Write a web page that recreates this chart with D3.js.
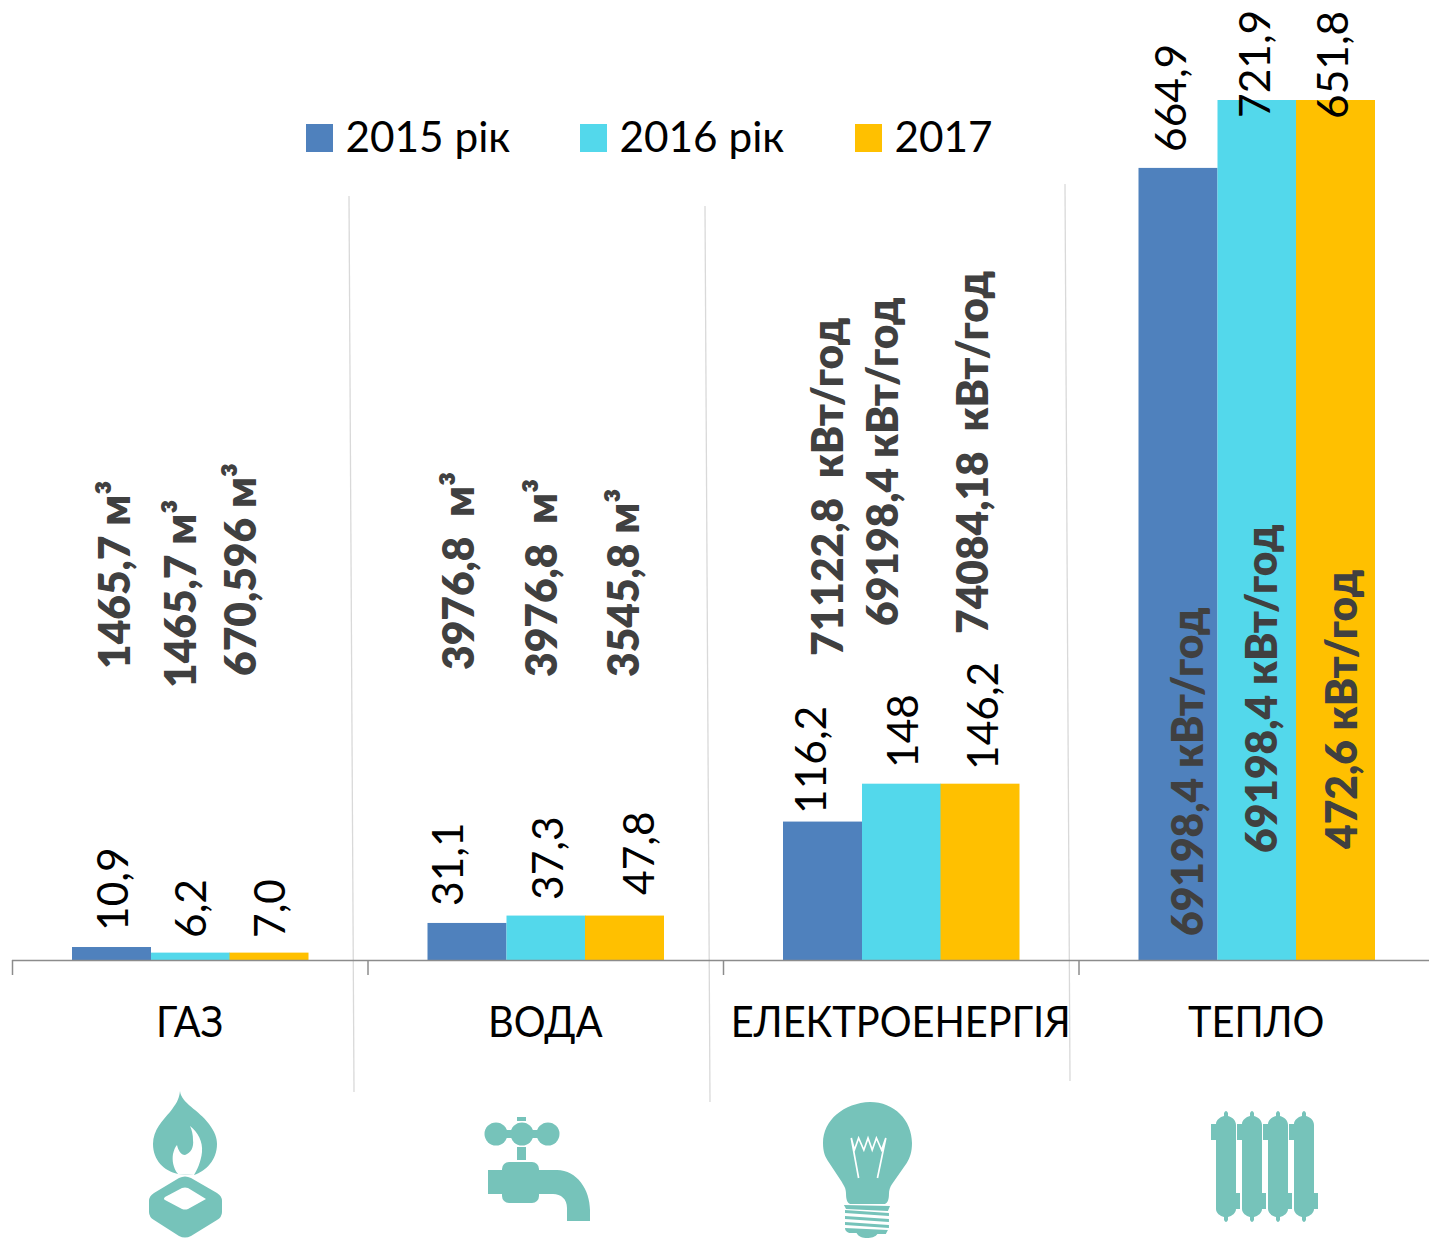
<!DOCTYPE html>
<html><head><meta charset="utf-8">
<script src="https://cdnjs.cloudflare.com/ajax/libs/d3/7.8.5/d3.min.js"></script>
<style>html,body{margin:0;background:#fff}svg{display:block}text{white-space:pre}</style>
</head><body><svg id="c" width="1429" height="1239"></svg>
<script>
const categories = ["ГАЗ","ВОДА","ЕЛЕКТРОЕНЕРГІЯ","ТЕПЛО"];
const seriesNames = ["2015 рік","2016 рік","2017"];
const seriesColors = ["#4f81bd","#53d8eb","#ffc000"];
const bars2015 = [10.9,31.1,116.2,664.9];
const bars2016 = [6.2,37.3,148,721.9];
const bars2017 = [6.2,37.3,148,721.9];
const labels2015 = ["10,9","31,1","116,2","664,9"];
const labels2016 = ["6,2","37,3","148","721,9"];
const labels2017 = ["7,0","47,8","146,2","651,8"];
const usage2015 = ["1465,7 м³","3976,8  м³","71122,8  кВт/год","69198,4 кВт/год"];
const usage2016 = ["1465,7 м³","3976,8  м³","69198,4 кВт/год","69198,4 кВт/год"];
const usage2017 = ["670,596 м³","3545,8 м³","74084,18  кВт/год","472,6 кВт/год"];

// manual label anchors from the original chart: [baseline x, start y]
const valueAnchors = [
 [[128,931],[206,938],[285,938]],
 [[463,906],[563,900],[654,895]],
 [[826,814],[918,768],[998,770]],
 [[1186,152],[1270,118],[1348,119]]];
const usageAnchors = [
 [[130,669],[196,688],[256,676]],
 [[474,670],[557,677],[639,677]],
 [[843,656],[898,626],[988,634]],
 [[1203,936],[1277,853],[1357,849]]];

const FONT = "Lato, Carlito, sans-serif";
const svg = d3.select("#c");
const bars=[bars2015,bars2016,bars2017], labels=[labels2015,labels2016,labels2017], usage=[usage2015,usage2016,usage2017];

const x = d3.scaleBand().domain(categories).range([12,12+355.5*4]);
const x1 = d3.scaleBand().domain(seriesNames).range([60,297]);
const y = d3.scaleLinear().domain([0,721.9]).range([960,100]);

// dividers
const dividers=[[349,196,354,1092],[705,206,710,1102],[1065,184,1070,1081]];
svg.selectAll("line.div").data(dividers).join("line").attr("class","div")
 .attr("x1",d=>d[0]).attr("y1",d=>d[1]).attr("x2",d=>d[2]).attr("y2",d=>d[3])
 .attr("stroke","#d9d9d9").attr("stroke-width",1.3);

// bars
seriesNames.forEach((s,si)=>{
 svg.append("g").selectAll("rect").data(categories).join("rect")
  .attr("x",c=>x(c)+x1(s)-(si==2?0.5:0)).attr("width",x1.bandwidth())
  .attr("y",(c,i)=>y(bars[si][i])).attr("height",(c,i)=>y(0)-y(bars[si][i]))
  .attr("fill",seriesColors[si]);
});

// axis
const ax = svg.append("g").attr("transform","translate(0,960)")
 .call(d3.axisBottom(x).tickSize(0).tickPadding(0));
ax.select(".domain").remove();
ax.selectAll("text").attr("font-family",FONT).attr("font-size",42.5).attr("fill","#000").attr("dy",0).attr("y",77)
  .attr("transform","scale(0.936,1)");
svg.append("line").attr("x1",12).attr("x2",1429).attr("y1",960.5).attr("y2",960.5).attr("stroke","#8c8c8c").attr("stroke-width",1.5);
svg.append("g").selectAll("line").data(categories).join("line")
 .attr("x1",c=>x(c)+.5).attr("x2",c=>x(c)+.5).attr("y1",960).attr("y2",975).attr("stroke","#8c8c8c").attr("stroke-width",1.5);

// value labels
categories.forEach((c,ci)=>seriesNames.forEach((s,si)=>{
 const [ax_,ay]=valueAnchors[ci][si];
 svg.append("text").attr("transform",`translate(${ax_},${ay}) rotate(-90)`)
  .attr("font-family",FONT).attr("font-size",42.5).attr("fill","#000").text(labels[si][ci]);
 const [ux,uy]=usageAnchors[ci][si];
 svg.append("text").attr("transform",`translate(${ux},${uy}) rotate(-90)`)
  .attr("font-family",FONT).attr("font-size",42.5).attr("font-weight",800).attr("fill","#404040").text(usage[si][ci]);
}));

// legend
const legX=[306,580,855];
seriesNames.forEach((s,i)=>{
 svg.append("rect").attr("x",legX[i]).attr("y",124).attr("width",27).attr("height",28).attr("fill",seriesColors[i]);
 svg.append("text").attr("x",legX[i]+39.5).attr("y",152).attr("font-family",FONT).attr("font-size",42.3).attr("fill","#000").text(s);
});

// icons
const teal="#76c3ba";
const ic=svg.append("g").attr("fill",teal);
// gas
ic.append("path").attr("d","M180 1091C181 1103 199 1110 209 1124C215 1132 217 1138 217 1144C217 1160 206 1171 194 1175L178 1174C164 1171 153 1160 153 1144C153 1130 163 1120 170 1112C176 1104 179 1100 180 1091Z");
ic.append("path").attr("fill","#fff").attr("d","M190 1126C198 1132 203 1142 202 1152C201 1162 197 1170 194 1175L178 1174C173 1168 172 1160 173 1154C174 1150 175 1147 177 1145C178 1150 181 1155 185 1155C191 1153 194 1147 193 1140C193 1135 192 1130 190 1126Z");
ic.append("path").attr("fill-rule","evenodd").attr("d","M179 1178Q185 1175 191 1178L217 1193Q222 1196 222 1201V1212Q222 1217 217 1220L191 1236Q185 1239 179 1236L154 1220Q149 1217 149 1212V1201Q149 1196 154 1193ZM182 1188L165 1197Q163 1199 165 1200L182 1209Q185 1210 188 1209L206 1199L188 1188Q185 1187 182 1188Z");
// tap
const tap=ic.append("g").attr("transform","translate(1,0)");
[495,521,547].forEach(cx=>tap.append("circle").attr("cx",cx).attr("cy",1134).attr("r",11.5));
tap.append("rect").attr("x",495).attr("y",1130).attr("width",53).attr("height",8);
tap.append("rect").attr("x",516).attr("y",1117).attr("width",9).attr("height",4);
tap.append("rect").attr("x",516).attr("y",1147).attr("width",9).attr("height",13);
tap.append("rect").attr("x",501).attr("y",1162).attr("width",37).attr("height",41).attr("rx",7);
tap.append("path").attr("d","M487 1170H556C576 1170 589 1190 589 1210V1221H566V1208C566 1199 560 1194 552 1194H487Z");
// bulb
const bulb=ic.append("g").attr("transform","translate(823,0) scale(1.047,1) translate(-823,0)");
bulb.append("path").attr("d","M868 1102C891 1102 908 1120 908 1143C908 1152 906 1158 903 1163L889 1184C887 1187 886 1190 886 1194C886 1199 885 1203 882 1204H849C846 1203 845 1199 845 1194C845 1188 843 1186 841 1182L829 1163C825 1157 823 1152 823 1143C823 1120 843 1103 868 1102Z");
bulb.append("path").attr("fill","none").attr("stroke","#fff").attr("stroke-width",1.6)
 .attr("d","M857 1178L850 1138L853 1150L857 1138L862 1150L866 1138L870 1150L874 1138L879 1150L883 1138L875 1178");
bulb.append("path").attr("d","M843 1205L887 1206L885 1211L845 1209Z");
[[1210,1213],[1216,1219],[1222,1225]].forEach(b=>bulb.append("path").attr("d",`M844 ${b[0]}L886 ${b[0]+3}L886 ${b[1]+3}L844 ${b[1]}Z`));
bulb.append("path").attr("d","M844 1228L885 1230L883 1234L875 1234C873 1237 869 1238 865 1238C861 1238 857 1237 855 1233L848 1233C846 1232 844 1231 844 1228Z");
// radiator
[14,40,66,92].forEach(dx=>ic.append("path").attr("transform",`translate(${dx},0)`)
 .attr("d","M1210 1113Q1212 1109 1214 1113V1116C1218 1117 1222 1120 1222 1125V1193H1226V1209H1222C1222 1213 1218 1216 1214 1217V1220Q1212 1224 1210 1220V1217C1206 1216 1202 1213 1202 1209V1140H1197V1124H1202C1202 1120 1206 1117 1210 1116Z"));
</script></body></html>
